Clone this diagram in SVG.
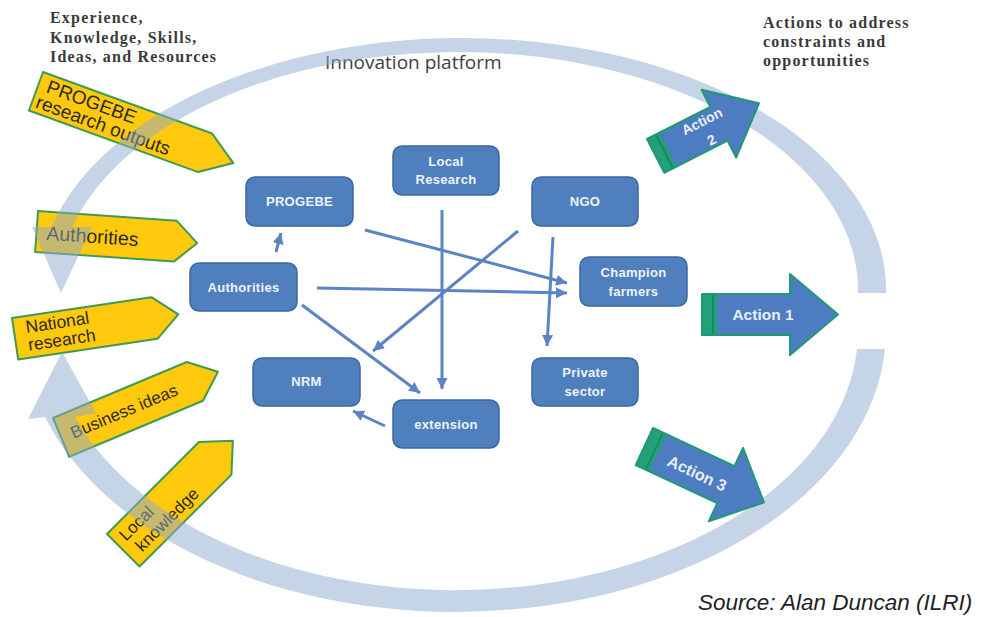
<svg xmlns="http://www.w3.org/2000/svg" width="985" height="617" viewBox="0 0 985 617">
<defs>
<style>
.node rect{fill:#4f80bd;stroke:#3a679f;stroke-width:1.5}
.node text{font-family:"Liberation Sans",Arial,sans-serif;font-weight:bold;font-size:13px;fill:#eef3fa;text-anchor:middle;letter-spacing:0.3px}
.conn line{stroke:#5a84c3;stroke-width:3;marker-end:url(#ah)}
.yel polygon{fill:#ffc90e;stroke:#3f9b4f;stroke-width:2;stroke-linejoin:round}
.yel text{font-family:"Liberation Sans",Arial,sans-serif;fill:#2e2a18}
.act polygon{fill:#4d7cc0;stroke:#1f9a74;stroke-width:2;stroke-linejoin:round}
.act .tail{fill:#22a077}
.act .tl{stroke:#188a63;stroke-width:2}
.act text{font-family:"Liberation Sans",Arial,sans-serif;font-weight:bold;fill:#e8eff9;text-anchor:middle}
.serif{font-family:"Liberation Serif","Times New Roman",serif;font-weight:bold;font-size:16px;fill:#3a3a3a;letter-spacing:1.2px}
</style>
<marker id="ah" markerUnits="userSpaceOnUse" markerWidth="12" markerHeight="11" refX="11" refY="5.5" orient="auto"><path d="M0,0 L11,5.5 L0,11 z" fill="#5a84c3"/></marker>
</defs>
<rect width="985" height="617" fill="#ffffff"/>

<g id="labels">
<text class="serif" x="50" y="23">Experience,</text>
<text class="serif" x="50" y="43">Knowledge, Skills,</text>
<text class="serif" x="50" y="62">Ideas, and Resources</text>
<text class="serif" x="763" y="28">Actions to address</text>
<text class="serif" x="763" y="47">constraints and</text>
<text class="serif" x="763" y="66">opportunities</text>
<text x="325" y="69" font-family="'Open Sans','Liberation Sans',sans-serif" font-size="19" fill="#404040">Innovation platform</text>
<text x="698" y="610" font-family="'Liberation Sans',Arial,sans-serif" font-style="italic" font-size="22.5" fill="#222222">Source: Alan Duncan (ILRI)</text>
</g>

<g id="in-progebe" class="yel" transform="translate(43,72) rotate(20)">
<polygon points="0,0 180,0 210,20.5 180,41 0,41"/>
<text x="9" y="18" font-size="19">PROGEBE</text>
<text x="4" y="36" font-size="19">research outputs</text>
</g>
<g id="in-authorities" class="yel" transform="translate(38,211) rotate(4)">
<polygon points="0,0 139,0 161,21 139,41 0,41"/>
<text x="10" y="28" font-size="19.5">Authorities</text>
</g>
<g id="in-national" class="yel" transform="translate(12,318) rotate(-8.5)">
<polygon points="0,0 141,0 165,21 141,42 0,42"/>
<text x="12" y="17" font-size="17.5">National</text>
<text x="12" y="35" font-size="17.5">research</text>
</g>
<g id="in-business" class="yel" transform="translate(53,418) rotate(-22.7)">
<polygon points="0,0 145,0 170,21 145,42 0,42"/>
<text x="11" y="27" font-size="17">Business ideas</text>
</g>
<g id="in-local" class="yel" transform="translate(107,534) rotate(-45)">
<polygon points="0,0 130,0 155,23 130,46 0,46"/>
<text x="8" y="19" font-size="17">Local</text>
<text x="12" y="38" font-size="17">knowledge</text>
</g>

<g id="cycle" opacity="0.5" fill="#8eaad0">
<path d="M 886 293 A 424 252 0 0 0 51.5 227 L 32 227 L 61 293 L 92 227 L 72.3 227 A 400 238 0 0 1 858 293 Z"/>
<path d="M 885 349 A 431 282 0 0 1 45 417 L 28 419 L 62 352 L 96 413 L 75.2 417 A 403 260 0 0 0 857 349 Z"/>
</g>

<g id="action2" class="act" transform="translate(647,139) rotate(-27)">
<polygon points="0,0 71,0 71,-19 116,19 71,57 71,38 0,38"/>
<rect class="tail" x="1" y="1" width="13" height="36"/>
<line class="tl" x1="10" y1="1" x2="10" y2="37"/>
<text x="57" y="14" font-size="14">Action</text>
<text x="57" y="35" font-size="14">2</text>
</g>
<g id="action1" class="act" transform="translate(702,294)">
<polygon points="0,0 88,0 88,-20 136,20.5 88,61 88,41 0,41"/>
<rect class="tail" x="1" y="1" width="14" height="39"/>
<line class="tl" x1="11" y1="1" x2="11" y2="40"/>
<text x="61" y="26" font-size="15.5">Action 1</text>
</g>
<g id="action3" class="act" transform="translate(653,428) rotate(25)">
<polygon points="0,0 90,0 90,-20 132,20.5 90,61 90,41 0,41"/>
<rect class="tail" x="1" y="1" width="14" height="39"/>
<line class="tl" x1="11" y1="1" x2="11" y2="40"/>
<text x="59" y="28" font-size="16">Action 3</text>
</g>

<g id="connectors" class="conn">
<line x1="276" y1="252" x2="281" y2="233"/>
<line x1="365" y1="230" x2="567" y2="283"/>
<line x1="317" y1="288" x2="567" y2="293"/>
<line x1="442" y1="210" x2="442" y2="389"/>
<line x1="518" y1="231" x2="373" y2="351"/>
<line x1="553" y1="237" x2="547" y2="346"/>
<line x1="302" y1="305" x2="420" y2="393"/>
<line x1="385" y1="426" x2="353" y2="411"/>
</g>

<g id="n-progebe" class="node"><rect x="246" y="177" width="107" height="49" rx="9"/><text x="299.5" y="206">PROGEBE</text></g>
<g id="n-localresearch" class="node"><rect x="393" y="146" width="106" height="49" rx="9"/><text x="446" y="165.5">Local</text><text x="446" y="183.5">Research</text></g>
<g id="n-ngo" class="node"><rect x="532" y="177" width="106" height="49" rx="9"/><text x="585" y="206">NGO</text></g>
<g id="n-champion" class="node"><rect x="580" y="257" width="107" height="49" rx="9"/><text x="633.5" y="276.5">Champion</text><text x="633.5" y="295.5">farmers</text></g>
<g id="n-authorities" class="node"><rect x="190" y="263" width="107" height="48" rx="9"/><text x="243.5" y="291.5">Authorities</text></g>
<g id="n-nrm" class="node"><rect x="253" y="358" width="107" height="48" rx="9"/><text x="306.5" y="385.5">NRM</text></g>
<g id="n-private" class="node"><rect x="532" y="358" width="106" height="48" rx="9"/><text x="585" y="376.5">Private</text><text x="585" y="395.5">sector</text></g>
<g id="n-extension" class="node"><rect x="393" y="400" width="106" height="48" rx="9"/><text x="446" y="428.5">extension</text></g>
</svg>
